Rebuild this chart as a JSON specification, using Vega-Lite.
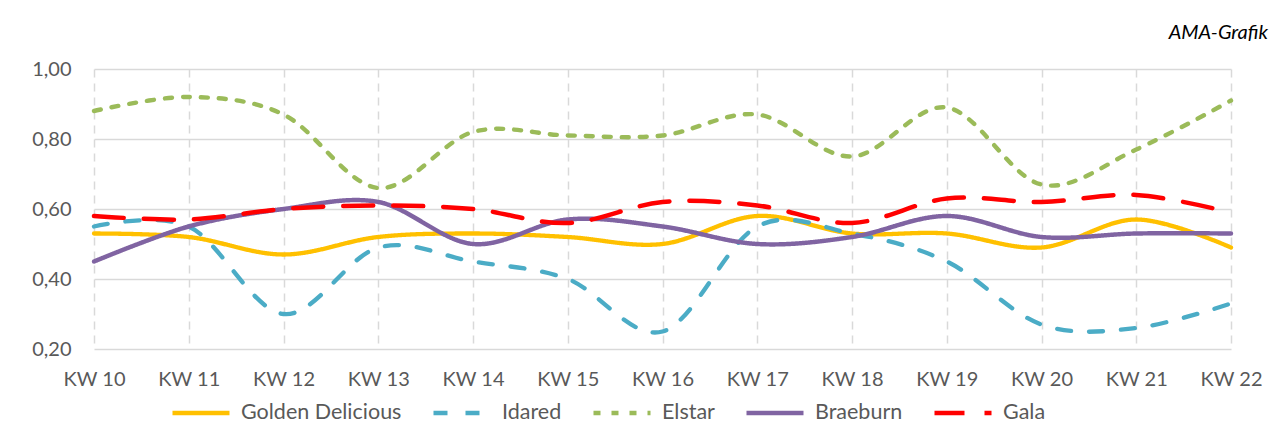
{
  "$schema": "https://vega.github.io/schema/vega-lite/v6.json",
  "width": 1137,
  "height": 280,
  "autosize": {"type": "none"},
  "padding": {"left": 94, "top": 69, "right": 43, "bottom": 92},
  "background": "#ffffff",
  "title": {
    "text": "AMA-Grafik",
    "anchor": "end",
    "frame": "group",
    "dx": 37,
    "offset": 16,
    "font": "Lato",
    "fontSize": 20,
    "fontStyle": "italic",
    "fontWeight": "normal",
    "color": "#000000"
  },
  "data": {
    "values": [
      {"week": "KW 10", "variety": "Golden Delicious", "value": 0.53},
      {"week": "KW 11", "variety": "Golden Delicious", "value": 0.52},
      {"week": "KW 12", "variety": "Golden Delicious", "value": 0.47},
      {"week": "KW 13", "variety": "Golden Delicious", "value": 0.52},
      {"week": "KW 14", "variety": "Golden Delicious", "value": 0.53},
      {"week": "KW 15", "variety": "Golden Delicious", "value": 0.52},
      {"week": "KW 16", "variety": "Golden Delicious", "value": 0.50},
      {"week": "KW 17", "variety": "Golden Delicious", "value": 0.58},
      {"week": "KW 18", "variety": "Golden Delicious", "value": 0.53},
      {"week": "KW 19", "variety": "Golden Delicious", "value": 0.53},
      {"week": "KW 20", "variety": "Golden Delicious", "value": 0.49},
      {"week": "KW 21", "variety": "Golden Delicious", "value": 0.57},
      {"week": "KW 22", "variety": "Golden Delicious", "value": 0.49},
      {"week": "KW 10", "variety": "Idared", "value": 0.55},
      {"week": "KW 11", "variety": "Idared", "value": 0.55},
      {"week": "KW 12", "variety": "Idared", "value": 0.30},
      {"week": "KW 13", "variety": "Idared", "value": 0.49},
      {"week": "KW 14", "variety": "Idared", "value": 0.45},
      {"week": "KW 15", "variety": "Idared", "value": 0.40},
      {"week": "KW 16", "variety": "Idared", "value": 0.25},
      {"week": "KW 17", "variety": "Idared", "value": 0.55},
      {"week": "KW 18", "variety": "Idared", "value": 0.53},
      {"week": "KW 19", "variety": "Idared", "value": 0.45},
      {"week": "KW 20", "variety": "Idared", "value": 0.27},
      {"week": "KW 21", "variety": "Idared", "value": 0.26},
      {"week": "KW 22", "variety": "Idared", "value": 0.33},
      {"week": "KW 10", "variety": "Elstar", "value": 0.88},
      {"week": "KW 11", "variety": "Elstar", "value": 0.92},
      {"week": "KW 12", "variety": "Elstar", "value": 0.87},
      {"week": "KW 13", "variety": "Elstar", "value": 0.66},
      {"week": "KW 14", "variety": "Elstar", "value": 0.82},
      {"week": "KW 15", "variety": "Elstar", "value": 0.81},
      {"week": "KW 16", "variety": "Elstar", "value": 0.81},
      {"week": "KW 17", "variety": "Elstar", "value": 0.87},
      {"week": "KW 18", "variety": "Elstar", "value": 0.75},
      {"week": "KW 19", "variety": "Elstar", "value": 0.89},
      {"week": "KW 20", "variety": "Elstar", "value": 0.67},
      {"week": "KW 21", "variety": "Elstar", "value": 0.77},
      {"week": "KW 22", "variety": "Elstar", "value": 0.91},
      {"week": "KW 10", "variety": "Braeburn", "value": 0.45},
      {"week": "KW 11", "variety": "Braeburn", "value": 0.55},
      {"week": "KW 12", "variety": "Braeburn", "value": 0.60},
      {"week": "KW 13", "variety": "Braeburn", "value": 0.62},
      {"week": "KW 14", "variety": "Braeburn", "value": 0.50},
      {"week": "KW 15", "variety": "Braeburn", "value": 0.57},
      {"week": "KW 16", "variety": "Braeburn", "value": 0.55},
      {"week": "KW 17", "variety": "Braeburn", "value": 0.50},
      {"week": "KW 18", "variety": "Braeburn", "value": 0.52},
      {"week": "KW 19", "variety": "Braeburn", "value": 0.58},
      {"week": "KW 20", "variety": "Braeburn", "value": 0.52},
      {"week": "KW 21", "variety": "Braeburn", "value": 0.53},
      {"week": "KW 22", "variety": "Braeburn", "value": 0.53},
      {"week": "KW 10", "variety": "Gala", "value": 0.58},
      {"week": "KW 11", "variety": "Gala", "value": 0.57},
      {"week": "KW 12", "variety": "Gala", "value": 0.60},
      {"week": "KW 13", "variety": "Gala", "value": 0.61},
      {"week": "KW 14", "variety": "Gala", "value": 0.60},
      {"week": "KW 15", "variety": "Gala", "value": 0.56},
      {"week": "KW 16", "variety": "Gala", "value": 0.62},
      {"week": "KW 17", "variety": "Gala", "value": 0.61},
      {"week": "KW 18", "variety": "Gala", "value": 0.56},
      {"week": "KW 19", "variety": "Gala", "value": 0.63},
      {"week": "KW 20", "variety": "Gala", "value": 0.62},
      {"week": "KW 21", "variety": "Gala", "value": 0.64},
      {"week": "KW 22", "variety": "Gala", "value": 0.59}
    ]
  },
  "mark": {"type": "line", "interpolate": "cardinal", "tension": 0, "strokeCap": "round"},
  "encoding": {
    "x": {
      "field": "week",
      "type": "ordinal",
      "scale": {"type": "point", "padding": 0, "domain": ["KW 10","KW 11","KW 12","KW 13","KW 14","KW 15","KW 16","KW 17","KW 18","KW 19","KW 20","KW 21","KW 22"]},
      "axis": {
        "title": null,
        "labelAngle": 0,
        "ticks": false,
        "domain": false,
        "grid": true,
        "gridDash": [8, 6],
        "gridColor": "#D9D9D9",
        "gridWidth": 1.5,
        "labelFont": "Lato",
        "labelFontSize": 20,
        "labelColor": "#595959",
        "labelPadding": 20
      }
    },
    "y": {
      "field": "value",
      "type": "quantitative",
      "scale": {"domain": [0.2, 1.0], "nice": false, "zero": false},
      "axis": {
        "title": null,
        "values": [0.2, 0.4, 0.6, 0.8, 1.0],
        "labelExpr": "replace(format(datum.value, '.2f'), '.', ',')",
        "ticks": false,
        "domain": false,
        "grid": true,
        "gridColor": "#D9D9D9",
        "gridWidth": 1.5,
        "labelFont": "Lato",
        "labelFontSize": 20,
        "labelColor": "#595959",
        "labelPadding": 23
      }
    },
    "color": {
      "field": "variety",
      "type": "nominal",
      "scale": {
        "domain": ["Golden Delicious", "Idared", "Elstar", "Braeburn", "Gala"],
        "range": ["#FFC000", "#4BACC6", "#9BBB59", "#8064A2", "#FF0000"]
      },
      "legend": {
        "title": null,
        "orient": "none",
        "direction": "horizontal",
        "legendX": 76,
        "legendY": 313,
        "symbolType": "stroke",
        "symbolSize": 3250,
        "labelFont": "Lato",
        "labelFontSize": 21.5,
        "labelColor": "#595959",
        "labelLimit": 0,
        "labelOffset": 9,
        "columnPadding": 22,
        "gridAlign": "none"
      }
    },
    "strokeDash": {
      "field": "variety",
      "type": "nominal",
      "scale": {
        "domain": ["Golden Delicious", "Idared", "Elstar", "Braeburn", "Gala"],
        "range": [[1, 0], [14, 18], [7, 11], [1, 0], [30, 20]]
      },
      "legend": {
        "title": null,
        "orient": "none",
        "direction": "horizontal",
        "legendX": 76,
        "legendY": 313,
        "symbolType": "stroke",
        "symbolSize": 3250,
        "labelFont": "Lato",
        "labelFontSize": 21.5,
        "labelColor": "#595959",
        "labelLimit": 0,
        "labelOffset": 9,
        "columnPadding": 22,
        "gridAlign": "none"
      }
    },
    "strokeWidth": {
      "field": "variety",
      "type": "nominal",
      "scale": {
        "domain": ["Golden Delicious", "Idared", "Elstar", "Braeburn", "Gala"],
        "range": [4.3, 4.5, 4.5, 4.5, 5.3]
      },
      "legend": {
        "title": null,
        "orient": "none",
        "direction": "horizontal",
        "legendX": 76,
        "legendY": 313,
        "symbolType": "stroke",
        "symbolSize": 3250,
        "labelFont": "Lato",
        "labelFontSize": 21.5,
        "labelColor": "#595959",
        "labelLimit": 0,
        "labelOffset": 9,
        "columnPadding": 22,
        "gridAlign": "none"
      }
    }
  },
  "config": {
    "view": {"stroke": null},
    "font": "Lato"
  }
}
